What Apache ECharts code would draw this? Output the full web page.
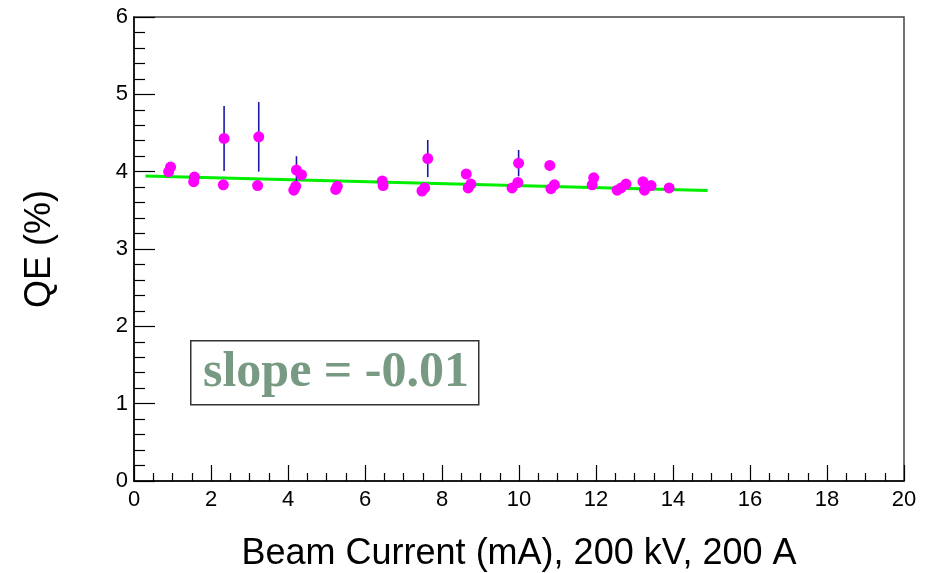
<!DOCTYPE html>
<html>
<head>
<meta charset="utf-8">
<script src="https://cdn.jsdelivr.net/npm/echarts@6/dist/echarts.min.js"></script>
<style>html,body{margin:0;padding:0;background:#fff}#c{width:940px;height:573px}</style>
</head>
<body>
<div id="c"></div>
<script>
// Data
const beamCurrent = [0.95,0.90,1.57,1.55,2.34,2.32,3.24,3.21,4.22,4.35,4.20,4.15,5.28,5.24,6.45,6.47,7.63,7.55,7.48,8.63,8.75,8.68,9.99,9.97,9.82,10.80,10.92,10.83,11.94,11.90,12.55,12.78,12.65,13.22,13.43,13.26,13.90];
const qeValues    = [4.06,4.00,3.93,3.87,4.43,3.83,4.45,3.82,4.02,3.96,3.81,3.76,3.81,3.77,3.88,3.82,4.17,3.79,3.75,3.97,3.84,3.79,4.11,3.86,3.79,4.08,3.83,3.78,3.92,3.83,3.76,3.84,3.79,3.87,3.82,3.76,3.79];
const qeErrors    = [0.04,0.04,0.04,0.04,0.42,0.04,0.45,0.04,0.18,0.04,0.04,0.04,0.04,0.04,0.04,0.04,0.24,0.04,0.04,0.04,0.04,0.04,0.17,0.04,0.04,0.04,0.04,0.04,0.04,0.04,0.04,0.04,0.04,0.04,0.04,0.04,0.04];
const fitX = [0.3, 14.9];
const fitY = [3.945, 3.758];
const xTicks = [0,2,4,6,8,10,12,14,16,18,20];
const yTicks = [0,1,2,3,4,5,6];
const slopeText = 'slope = -0.01';
const xTitle = 'Beam Current (mA), 200 kV, 200 A';
const yTitle = 'QE (%)';

const pts = beamCurrent.map((x,i)=>[x, qeValues[i]]);
const errData = beamCurrent.map((x,i)=>[x, qeValues[i]-qeErrors[i], qeValues[i]+qeErrors[i]]);
const fitData = fitX.map((x,i)=>[x, fitY[i]]);

const chart = echarts.init(document.getElementById('c'), null, {renderer:'canvas'});
const font = 'Liberation Sans, Arial, Helvetica, sans-serif';
chart.setOption({
  animation:false,
  backgroundColor:'#fff',
  grid:{left:134,right:36,top:17,bottom:92,outerBoundsMode:'none',containLabel:false,show:true,borderColor:'#444',borderWidth:1.5,backgroundColor:'transparent'},
  xAxis:{
    type:'value',min:xTicks[0],max:xTicks[xTicks.length-1],interval:2,
    axisLine:{show:true,onZero:false,lineStyle:{color:'#000',width:1.5}},
    axisTick:{show:true,inside:true,length:16,lineStyle:{color:'#000',width:1.2}},
    minorTick:{show:true,splitNumber:4,length:8,lineStyle:{color:'#000',width:1.2}},
    splitLine:{show:false},
    axisLabel:{color:'#000',fontSize:22,fontFamily:font,margin:8},
    name:xTitle,nameLocation:'middle',nameGap:55,
    nameTextStyle:{color:'#000',fontSize:36,fontFamily:font}
  },
  yAxis:{
    type:'value',min:yTicks[0],max:yTicks[yTicks.length-1],interval:1,
    axisLine:{show:true,onZero:false,lineStyle:{color:'#000',width:1.5}},
    axisTick:{show:true,inside:true,length:21,lineStyle:{color:'#000',width:1.2}},
    minorTick:{show:true,splitNumber:5,length:11,lineStyle:{color:'#000',width:1.2}},
    splitLine:{show:false},
    axisLabel:{color:'#000',fontSize:22,fontFamily:font,margin:6},
    name:yTitle,nameLocation:'middle',nameGap:76,nameRotate:90,
    nameTextStyle:{color:'#000',fontSize:36,fontFamily:font}
  },
  series:[
    {
      type:'line',data:fitData,symbol:'none',z:2,
      lineStyle:{color:'#00ee00',width:3}
    },
    {
      type:'custom',z:3,data:errData,
      renderItem:function(params,api){
        const p1 = api.coord([api.value(0), api.value(1)]);
        const p2 = api.coord([api.value(0), api.value(2)]);
        return {type:'line',shape:{x1:p1[0],y1:p1[1],x2:p2[0],y2:p2[1]},
          style:{stroke:'#1a1aa6',lineWidth:1.6}};
      }
    },
    {
      type:'scatter',data:pts,symbol:'circle',symbolSize:11,z:4,
      itemStyle:{color:'#ff00ff',opacity:1}
    }
  ],
  graphic:[
    {type:'rect',left:190,top:340,shape:{width:288,height:64},z:10,
      style:{fill:'#fff',stroke:'#333',lineWidth:1.5}},
    {type:'text',x:336,y:373,z:11,
      style:{text:slopeText,fill:'#789a82',font:'bold 50px "Liberation Serif", "Times New Roman", serif',
        textAlign:'center',textVerticalAlign:'middle'}}
  ]
});
</script>
</body>
</html>
